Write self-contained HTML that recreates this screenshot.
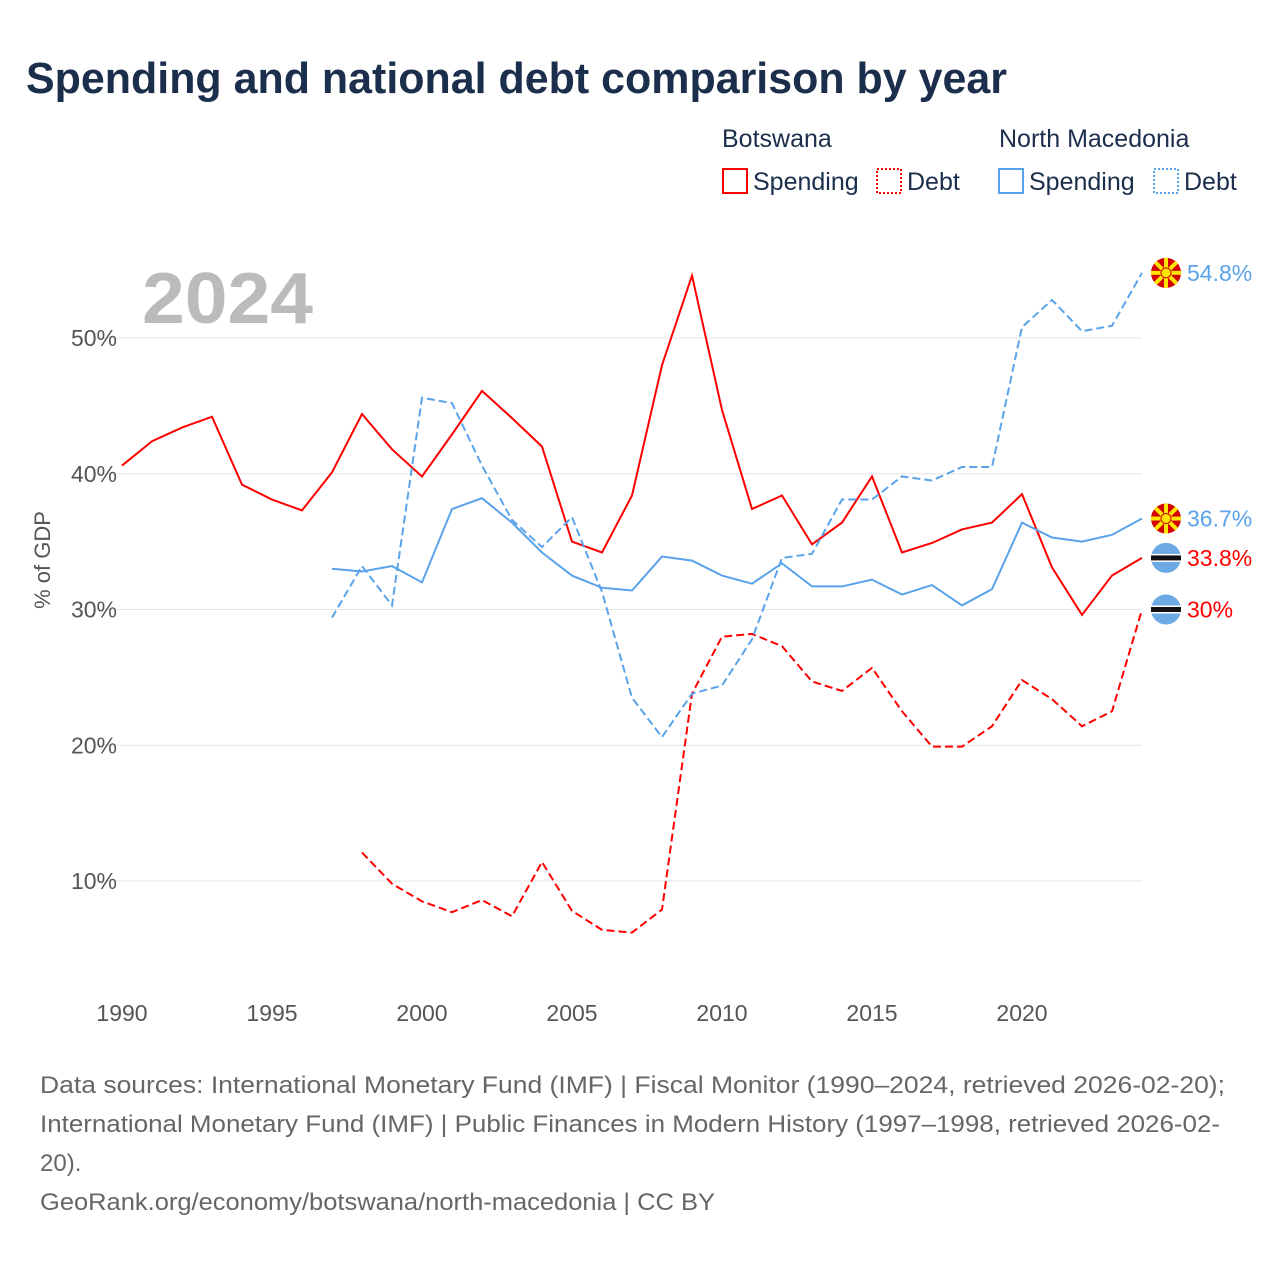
<!DOCTYPE html>
<html><head><meta charset="utf-8">
<style>
body{margin:0;background:#fff;font-family:"Liberation Sans",sans-serif;}
#wrap{position:relative;width:1280px;height:1280px;overflow:hidden;}
</style></head>
<body><div id="wrap">
<svg id="chart" width="1280" height="1280">
<text x="26" y="93" font-size="44" font-weight="bold" fill="#1b2e4b" textLength="981" lengthAdjust="spacingAndGlyphs">Spending and national debt comparison by year</text>
<g font-size="25" fill="#1b2e4b">
<text x="722" y="147" fill="#1b2e4b">Botswana</text>
<text x="999" y="147" fill="#1b2e4b">North Macedonia</text>
<g><rect x="723" y="169" width="24" height="24" fill="none" stroke="#f00" stroke-width="2"/><text x="753" y="190" fill="#1b2e4b">Spending</text></g>
<g><rect x="877" y="169" width="24" height="24" fill="none" stroke="#f00" stroke-width="2" stroke-dasharray="2,2"/><text x="907" y="190" fill="#1b2e4b">Debt</text></g>
<g><rect x="999" y="169" width="24" height="24" fill="none" stroke="#5aa3ea" stroke-width="2"/><text x="1029" y="190" fill="#1b2e4b">Spending</text></g>
<g><rect x="1154" y="169" width="24" height="24" fill="none" stroke="#5aa3ea" stroke-width="2" stroke-dasharray="2,2"/><text x="1184" y="190" fill="#1b2e4b">Debt</text></g>
</g>
<text x="142" y="323" font-size="72" font-weight="bold" fill="#bbb" textLength="171" lengthAdjust="spacingAndGlyphs">2024</text>
<text transform="translate(50,560) rotate(-90)" text-anchor="middle" font-size="22" fill="#555">% of GDP</text>
<g id="grid"></g><g id="series"></g><g id="labels"></g>
<g font-size="24" fill="#666">
<text x="40" y="1093" textLength="1185" lengthAdjust="spacingAndGlyphs">Data sources: International Monetary Fund (IMF) | Fiscal Monitor (1990–2024, retrieved 2026-02-20);</text>
<text x="40" y="1132" textLength="1180" lengthAdjust="spacingAndGlyphs">International Monetary Fund (IMF) | Public Finances in Modern History (1997–1998, retrieved 2026-02-</text>
<text x="40" y="1171">20).</text>
<text x="40" y="1210" textLength="675" lengthAdjust="spacingAndGlyphs">GeoRank.org/economy/botswana/north-macedonia | CC BY</text>
</g>
</svg>
<script>
const bwSpendStart=1990;
const bwSpend=[40.6,42.4,43.4,44.2,39.2,38.1,37.3,40.1,44.4,41.8,39.8,42.9,46.1,44.1,42.0,35.0,34.2,38.4,48.0,54.6,44.7,37.4,38.4,34.8,36.4,39.8,34.2,34.9,35.9,36.4,38.5,33.1,29.6,32.5,33.8];
const bwDebtStart=1998;
const bwDebt=[12.1,9.8,8.5,7.7,8.6,7.4,11.4,7.8,6.4,6.2,7.9,23.8,28.0,28.2,27.3,24.7,24.0,25.7,22.5,19.9,19.9,21.4,24.8,23.4,21.4,22.5,30.0];
const mkSpendStart=1997;
const mkSpend=[33.0,32.8,33.2,32.0,37.4,38.2,36.4,34.2,32.5,31.6,31.4,33.9,33.6,32.5,31.9,33.4,31.7,31.7,32.2,31.1,31.8,30.3,31.5,36.4,35.3,35.0,35.5,36.7];
const mkDebtStart=1997;
const mkDebt=[29.4,33.2,30.3,45.6,45.2,40.6,36.6,34.6,36.8,31.3,23.5,20.6,23.8,24.4,27.8,33.8,34.1,38.1,38.1,39.8,39.5,40.5,40.5,50.8,52.8,50.5,50.9,54.8];
const yTicks=[10,20,30,40,50];
const xTicks=[1990,1995,2000,2005,2010,2015,2020];
const NS="http://www.w3.org/2000/svg";
const x=yr=>122+(yr-1990)*30;
const y=v=>1016.75-v*13.575;
function mk(tag,attrs,parent){const e=document.createElementNS(NS,tag);for(const k in attrs)e.setAttribute(k,attrs[k]);parent.appendChild(e);return e;}
const grid=document.getElementById('grid'),series=document.getElementById('series'),labels=document.getElementById('labels');
yTicks.forEach(t=>{
 const l=mk('line',{x1:95,x2:1142,y1:y(t),y2:y(t),stroke:'#e6e6e6','stroke-width':1},grid);
 
 
 const tx=mk('text',{x:117,y:y(t)+8,'text-anchor':'end','font-size':23,fill:'#555'},grid);
 tx.textContent=t+'%';
 
 
});
xTicks.forEach(t=>{
 const tx=mk('text',{x:x(t),y:1021,'text-anchor':'middle','font-size':23,fill:'#555'},grid);
 tx.textContent=t;
 
 
});
function line(vals,start,color,dash,name){
 const d=vals.map((v,i)=>(i?'L':'M')+x(start+i)+','+y(v)).join(' ');
 const p=mk('path',{d:d,fill:'none',stroke:color,'stroke-width':2,'stroke-dasharray':dash},series);
 
 
}
line(bwSpend,bwSpendStart,'#f00','none','botswana-spending-line');
line(bwDebt,bwDebtStart,'#f00','8,4','botswana-debt-line');
line(mkSpend,mkSpendStart,'#5aa3ea','none','macedonia-spending-line');
line(mkDebt,mkDebtStart,'#5aa3ea','8,4','macedonia-debt-line');
function endLabel(v,color,flag,name){
 const cy=y(v),cx=1166;
 const g=mk('g',{},labels);
 
 
 if(flag==='mk'){
  mk('circle',{cx:cx,cy:cy,r:15,fill:'#d20000'},g);
  for(let a=0;a<8;a++){const ang=a*Math.PI/4;mk('line',{x1:cx,y1:cy,x2:cx+15*Math.cos(ang),y2:cy+15*Math.sin(ang),stroke:'#ffe600','stroke-width':4},g);}
  mk('circle',{cx:cx,cy:cy,r:5,fill:'#ffe600',stroke:'#d20000','stroke-width':1},g);
 }else{
  mk('circle',{cx:cx,cy:cy,r:15,fill:'#6da9e4'},g);
  mk('rect',{x:cx-15,y:cy-4,width:30,height:8,fill:'#fff'},g);
  mk('rect',{x:cx-15,y:cy-2.5,width:30,height:5,fill:'#111'},g);
 }
 const t=mk('text',{x:1187,y:cy+8,'font-size':23,fill:color},g);
 t.textContent=v+'%';
}
endLabel(mkDebt[mkDebt.length-1],'#5aa3ea','mk','macedonia-debt-end-label');
endLabel(mkSpend[mkSpend.length-1],'#5aa3ea','mk','macedonia-spending-end-label');
endLabel(bwSpend[bwSpend.length-1],'#f00','bw','botswana-spending-end-label');
endLabel(bwDebt[bwDebt.length-1],'#f00','bw','botswana-debt-end-label');
</script>
</div></body></html>
